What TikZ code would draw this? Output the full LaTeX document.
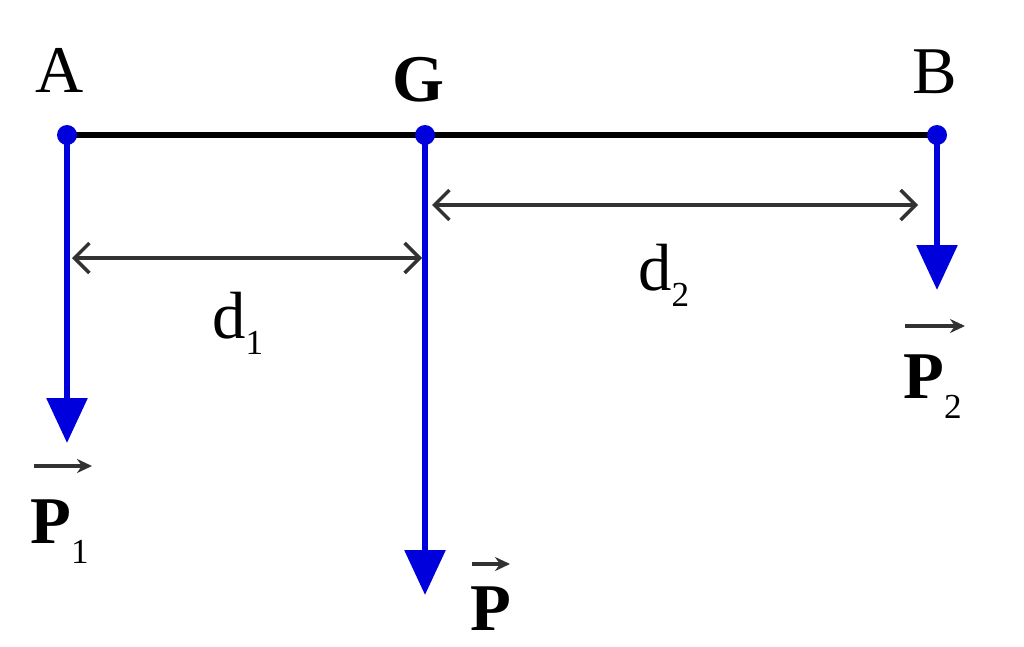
\documentclass[tikz,border=0pt]{standalone}
\usepackage{fontspec}
\setmainfont{Liberation Serif}
\usetikzlibrary{arrows.meta}
\definecolor{fblue}{RGB}{0,0,220}
\definecolor{dimgray}{RGB}{50,50,50}
\tikzset{
  lbl/.style={inner sep=0pt, font=\fontsize{38}{40}\selectfont},
  bar/.style={line width=3.4pt, black},
  force/.style={line width=3.4pt, fblue, -{Triangle[length=0.9cm,width=0.8cm]}},
  dimline/.style={line width=2pt, dimgray, {Straight Barb[length=0.3cm,width=0.6cm]}-{Straight Barb[length=0.3cm,width=0.6cm]}},
  vecarrow/.style={line width=2pt, dimgray, -{Stealth[length=0.3cm,width=0.28cm]}},
  dot/.style={circle, fill=fblue, inner sep=0pt, minimum size=0.4cm}
}
\begin{document}
\begin{tikzpicture}[x=0.02cm,y=-0.02cm]
\useasboundingbox (0,0) rectangle (1024,646);
% points
\coordinate (A) at (67,135);
\coordinate (G) at (425,135);
\coordinate (B) at (937,135);
\coordinate (P1tip) at (67,443);
\coordinate (Ptip) at (425,595);
\coordinate (P2tip) at (937,290);
\coordinate (d1L) at (72,258);
\coordinate (d1R) at (422,258);
\coordinate (d2L) at (432,205);
\coordinate (d2R) at (918,205);
% bar
\draw[bar] (A) -- (B);
% forces
\draw[force] (A) -- (P1tip);
\draw[force] (G) -- (Ptip);
\draw[force] (B) -- (P2tip);
\node[dot] (dA) at (A) {};
\node[dot] (dG) at (G) {};
\node[dot] (dB) at (B) {};
% dimensions
\draw[dimline] (d1L) -- (d1R);
\draw[dimline] (d2L) -- (d2R);
% labels
\node[lbl] (lA) at (60,70) {A};
\node[lbl, font=\fontsize{38}{40}\selectfont\bfseries] (lG) at (418,80) {G};
\node[lbl] (lB) at (935,72) {B};
\node[lbl, anchor=base west] (ld1) at (212,338) {d\raisebox{-0.25em}{\fontsize{20}{22}\selectfont 1}};
\node[lbl, anchor=base west] (ld2) at (638,290) {d\raisebox{-0.25em}{\fontsize{20}{22}\selectfont 2}};
\node[lbl, anchor=base west] (lP1) at (30,543) {\textbf{P}\raisebox{-0.3em}{\fontsize{20}{22}\selectfont 1}};
\node[lbl, anchor=base west] (lP) at (470,630) {\textbf{P}};
\node[lbl, anchor=base west] (lP2) at (903,398) {\textbf{P}\raisebox{-0.3em}{\fontsize{20}{22}\selectfont 2}};
% vector arrows over P
\coordinate (v1a) at (34,466); \coordinate (v1b) at (92,466);
\coordinate (va) at (472,564); \coordinate (vb) at (510,564);
\coordinate (v2a) at (905,326); \coordinate (v2b) at (965,326);
\draw[vecarrow] (v1a) -- (v1b);
\draw[vecarrow] (va) -- (vb);
\draw[vecarrow] (v2a) -- (v2b);
\end{tikzpicture}
\end{document}
